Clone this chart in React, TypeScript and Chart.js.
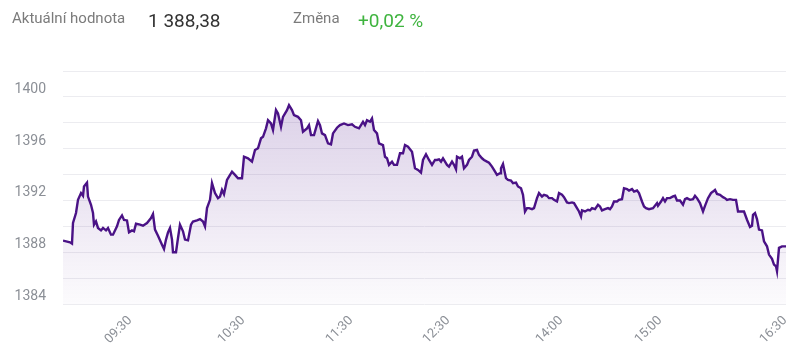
import React, { useEffect, useRef } from "react";
import { Chart, registerables } from "chart.js";

Chart.register(...registerables);

// Position index along the session (0 = first sample, 723 = last sample)
const pointIndex = [
  0, 7, 9, 10, 13, 15, 18, 20, 21, 24, 25, 28, 30, 31, 33, 35, 38, 40, 43, 45, 48, 50, 54, 56, 59, 61, 64, 66, 69, 71,
  73, 77, 80, 84, 88, 90, 92, 95, 99, 101, 103, 105, 107, 109, 110, 113, 115, 117, 120, 122, 125, 128, 130, 134, 137, 140, 142, 144, 147,
  149, 152, 155, 157, 159, 161, 164, 166, 169, 172, 175, 179, 181, 185, 189, 192, 195, 198, 200, 203, 205, 208, 210, 213, 215, 218,
  220, 224, 226, 229, 231, 235, 238, 240, 244, 246, 248, 251, 255, 257, 259, 262, 265, 268, 270, 274, 277, 281, 285, 289, 292,
  296, 300, 302, 304, 307, 309, 311, 314, 316, 320, 322, 324, 326, 329, 331, 334, 337, 340, 342, 345, 349, 352, 355, 358, 360,
  363, 366, 369, 372, 374, 376, 378, 380, 382, 384, 386, 389, 391, 393, 394, 397, 399, 401, 404, 406, 409, 411, 414, 416, 419,
  421, 424, 426, 429, 431, 434, 437,
  438, 440, 443, 445, 448, 450, 453, 455, 458, 460, 462, 464, 466, 469, 471, 474, 476, 479, 481, 484, 486, 489, 491, 494, 496,
  499, 501, 504, 506, 509, 511, 514, 516, 518, 519, 522, 525, 527, 529, 532, 535, 537, 539, 542, 545, 547, 549, 551, 554, 556,
  559, 561, 564, 566, 569, 571, 574, 576, 579, 581,
  583, 586, 590, 594, 595, 598, 600, 602, 604, 607, 610, 612, 614, 617, 620, 622, 624, 627, 630, 632, 634, 637, 640, 642, 645,
  648, 650, 652, 654, 657, 660, 662, 664, 667, 670, 673, 675, 679, 681, 684, 687, 689, 690, 692, 694, 696, 699, 701, 704, 706,
  709, 711, 713, 714, 716, 719, 723,
];

const indexValues = [
  1388.9, 1388.77, 1388.67, 1390.26, 1391.03, 1392.05, 1392.57, 1392.36, 1393.08, 1393.38, 1392.3, 1391.67, 1391.03, 1390.13, 1390.38,
  1389.88, 1389.69, 1389.88, 1389.69, 1389.88, 1389.36, 1389.36, 1390.0, 1390.5, 1390.85, 1390.5, 1390.46, 1389.54, 1389.69, 1389.62,
  1390.2, 1390.13, 1390.05, 1390.26, 1390.64, 1390.95, 1389.75, 1389.28, 1388.59, 1388.26, 1388.98, 1389.54, 1389.88, 1388.98, 1388.0,
  1388.0, 1389.1, 1390.13, 1389.62, 1388.98, 1388.92, 1390.13, 1390.38, 1390.46, 1390.56, 1390.38, 1390.0, 1391.41, 1392.05,
  1393.34, 1392.57, 1392.18, 1392.3, 1392.82, 1392.49, 1393.59, 1393.85, 1394.23, 1393.98, 1393.72, 1393.72, 1395.38, 1395.26, 1395.0,
  1395.9, 1396.03, 1396.8, 1396.92, 1397.57, 1398.2, 1397.95, 1397.44, 1398.98, 1398.72, 1397.69,
  1398.46, 1398.98, 1399.36, 1398.98, 1398.59, 1398.46, 1398.2, 1397.31, 1397.57, 1397.82, 1397.05, 1397.05, 1398.13, 1397.82, 1397.18,
  1397.05, 1396.41, 1396.33, 1397.18, 1397.62, 1397.82, 1397.95, 1397.82, 1397.88, 1397.69,
  1397.57, 1398.08, 1397.82, 1398.2, 1398.08, 1398.34, 1397.44, 1397.18, 1396.41, 1396.28, 1395.38, 1395.26, 1394.75, 1395.0, 1394.75,
  1394.75, 1395.65, 1395.65, 1396.28, 1396.15, 1395.77, 1394.49, 1394.36, 1394.15, 1395.13,
  1395.57, 1395.13, 1394.75, 1395.13, 1395.13, 1395.18, 1395.0, 1395.26, 1395.0, 1394.75, 1394.62, 1395.0, 1394.75, 1394.41, 1395.38,
  1395.26, 1395.38, 1394.49, 1394.75, 1395.13, 1395.38, 1395.85, 1395.9, 1395.52, 1395.26,
  1395.13, 1395.0, 1394.92, 1394.62, 1394.36, 1393.98, 1394.1,
  1394.49, 1394.82, 1393.72, 1393.59, 1393.54, 1393.34, 1393.38, 1393.08, 1392.95, 1392.44, 1391.15, 1391.41, 1391.41, 1391.33, 1391.41,
  1392.18, 1392.57, 1392.31, 1392.44, 1392.36, 1392.18, 1392.18, 1392.05, 1391.92, 1392.57,
  1392.44, 1392.26, 1391.85, 1391.8, 1391.85, 1391.8, 1391.41, 1391.15, 1390.77, 1391.23, 1391.15, 1391.28, 1391.23, 1391.41, 1391.33,
  1391.67, 1391.54, 1391.23, 1391.33, 1391.41, 1391.33, 1391.54, 1391.92, 1391.92, 1392.05,
  1392.1, 1392.95, 1392.88, 1392.77, 1392.88, 1392.69, 1392.77, 1392.57, 1391.92, 1391.54,
  1391.41, 1391.33, 1391.41, 1391.8, 1391.59, 1391.92, 1392.18, 1391.92, 1392.18, 1392.18, 1392.31, 1392.36, 1392.0, 1392.0, 1391.67,
  1392.1, 1392.18, 1392.05, 1392.1, 1392.36, 1392.18, 1391.8, 1391.15, 1391.59, 1392.18,
  1392.57, 1392.69, 1392.82, 1392.51, 1392.44, 1392.26, 1392.18, 1392.05, 1392.1, 1392.05, 1392.05, 1391.15, 1391.15, 1391.15, 1390.51,
  1389.95, 1390.05, 1390.9, 1391.03, 1390.56, 1389.75, 1389.69, 1388.85, 1388.46, 1387.82,
  1387.49, 1387.05, 1386.92, 1386.54, 1388.34, 1388.46, 1388.46,
];

const timeLabels = ["09:30", "10:30", "11:30", "12:30", "14:00", "15:00", "16:30"];
const timeLabelIndex = [67, 180, 288, 385, 498, 597, 722];

const yMin = 1384;
const yMax = 1402;
const yStep = 2;

const currentValue = "1 388,38";
const changeValue = "+0,02 %";

export default function App() {
  const canvasRef = useRef<HTMLCanvasElement | null>(null);

  useEffect(() => {
    const canvas = canvasRef.current;
    if (!canvas) return;
    const data = pointIndex.map((x, i) => ({ x, y: indexValues[i] }));
    const chart = new Chart(canvas, {
      type: "line",
      data: {
        datasets: [
          {
            data,
            borderColor: "#4a1286",
            borderWidth: 2.4,
            pointRadius: 0,
            tension: 0,
            fill: "start",
            backgroundColor: (context: any) => {
              const { ctx, chartArea } = context.chart;
              if (!chartArea) return "rgba(90,40,150,0.15)";
              const g = ctx.createLinearGradient(0, chartArea.top + 30, 0, chartArea.bottom);
              g.addColorStop(0, "rgba(95,45,150,0.22)");
              g.addColorStop(1, "rgba(95,45,150,0.02)");
              return g;
            },
          },
        ],
      },
      options: {
        animation: false,
        responsive: false,
        layout: { padding: { top: 71, right: 14, left: 0, bottom: 10 } },
        plugins: { legend: { display: false }, tooltip: { enabled: false } },
        scales: {
          x: {
            type: "linear",
            min: 0,
            max: 723,
            grid: { display: false },
            border: { display: false },
            afterBuildTicks: (axis: any) => {
              axis.ticks = timeLabelIndex.map((v) => ({ value: v }));
            },
            ticks: {
              autoSkip: false,
              maxRotation: 45,
              minRotation: 45,
              padding: 1,
              color: "#8b8f96",
              font: { family: "Roboto", size: 13 },
              callback: (_v: any, i: number) => timeLabels[i],
            },
          },
          y: {
            min: yMin,
            max: yMax,
            afterFit: (axis: any) => {
              axis.width = 63;
            },
            grid: { color: "#ececf0", drawTicks: false, lineWidth: 1 },
            border: { display: false },
            ticks: {
              stepSize: yStep,
              padding: 17,
              labelOffset: -7.5,
              color: "#8b8f96",
              font: { family: "Roboto", size: 14 },
              callback: (v: any) => (Number(v) % 4 === 0 ? String(v) : ""),
            },
          },
        },
      },
    });
    return () => chart.destroy();
  }, []);

  const base: React.CSSProperties = { position: "absolute", fontFamily: "Roboto", lineHeight: 1, whiteSpace: "nowrap" };

  return (
    <div style={{ position: "absolute", left: 0, top: 0, width: 800, height: 358, background: "#fff", overflow: "hidden" }}>
      <canvas ref={canvasRef} width={800} height={358} style={{ position: "absolute", left: 0, top: 0 }} />
      <span style={{ ...base, left: 12, top: 11, fontSize: 15, color: "#7b7b7b" }}>Aktuální hodnota</span>
      <span style={{ ...base, left: 148, top: 10.7, fontSize: 19, color: "#333" }}>{currentValue}</span>
      <span style={{ ...base, left: 293, top: 11, fontSize: 15, color: "#7b7b7b" }}>Změna</span>
      <span style={{ ...base, left: 358, top: 10.7, fontSize: 19, color: "#3fb43f" }}>{changeValue}</span>
    </div>
  );
}
